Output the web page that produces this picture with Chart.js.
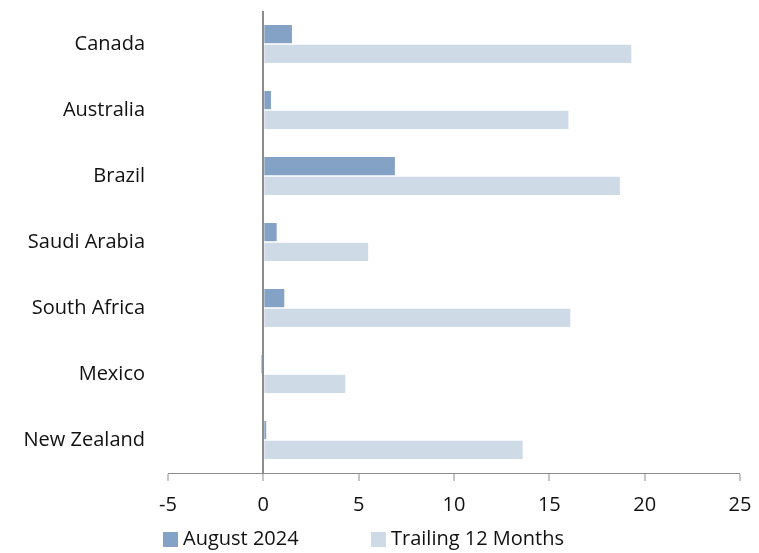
<!DOCTYPE html>
<html>
<head>
<meta charset="utf-8">
<script src="https://cdn.jsdelivr.net/npm/chart.js@4/dist/chart.umd.min.js"></script>
<style>
  html, body { margin: 0; padding: 0; background: #fff; }
  #wrap { position: relative; width: 759px; height: 553px; }
  #legend { position: absolute; left: 0; top: 527px; width: 759px; height: 24px;
            font-family: "Open Sans", sans-serif; font-size: 20px; color: #111; }
  .item { position: absolute; top: 0; height: 24px; line-height: 24px; white-space: nowrap; }
  .sw { position: absolute; top: 5px; width: 15px; height: 15px; }
  .lbl { position: absolute; top: -1px; }
</style>
</head>
<body>
<div id="wrap">
  <canvas id="c"></canvas>
  <div id="legend"></div>
</div>
<script>
const countries = ['Canada', 'Australia', 'Brazil', 'Saudi Arabia', 'South Africa', 'Mexico', 'New Zealand'];
const august2024 = [1.5, 0.4, 6.9, 0.7, 1.1, -0.1, 0.15];
const trailing12 = [19.3, 16.0, 18.7, 5.5, 16.1, 4.3, 13.6];
const seriesNames = ['August 2024', 'Trailing 12 Months'];
const xTicks = [-5, 0, 5, 10, 15, 20, 25];

const darkBlue = '#84A2C6';
const lightBlue = '#CFDAE7';
const axisGrey = '#8C8C8C';
const font = { family: '"Open Sans", sans-serif', size: 20 };

const chart = new Chart(document.getElementById('c'), {
  type: 'bar',
  data: {
    labels: countries,
    datasets: [
      { label: seriesNames[0], data: august2024, backgroundColor: darkBlue,
        borderWidth: 0, categoryPercentage: 0.6, barPercentage: 0.92 },
      { label: seriesNames[1], data: trailing12, backgroundColor: lightBlue,
        borderWidth: 0, categoryPercentage: 0.6, barPercentage: 0.92 }
    ]
  },
  options: {
    indexAxis: 'y',
    responsive: true,
    maintainAspectRatio: false,
    animation: false,
    layout: { padding: { left: 0, right: 19, top: 11, bottom: 33 } },
    plugins: { legend: { display: false }, tooltip: { enabled: false } },
    scales: {
      x: {
        type: 'linear',
        min: xTicks[0],
        max: xTicks[xTicks.length - 1],
        z: 1,
        afterBuildTicks: (s) => { s.ticks = xTicks.map(v => ({ value: v })); },
        afterFit: (s) => { s.height = 47; s.paddingLeft = 0; s.paddingRight = 0; },
        border: { display: true, color: axisGrey, width: 1 },
        grid: {
          drawOnChartArea: true,
          color: (ctx) => (ctx.tick && ctx.tick.value === 0 ? axisGrey : 'rgba(0,0,0,0)'),
          lineWidth: (ctx) => (ctx.tick && ctx.tick.value === 0 ? 2 : 0),
          tickColor: axisGrey,
          tickWidth: 1,
          tickLength: 8,
          drawTicks: true
        },
        ticks: { font: font, color: '#111', padding: 12, maxRotation: 0 }
      },
      y: {
        type: 'category',
        afterFit: (s) => { s.width = 168; s.paddingTop = 0; s.paddingBottom = 0; },
        border: { display: false },
        grid: { display: false, drawTicks: false },
        ticks: { font: font, color: '#111', padding: 23 }
      }
    }
  }
});

// Legend below the axis
const legend = document.getElementById('legend');
const colors = [darkBlue, lightBlue];
const lefts = [163, 371];
seriesNames.forEach((name, i) => {
  const item = document.createElement('div');
  item.className = 'item';
  item.style.left = lefts[i] + 'px';
  const sw = document.createElement('span');
  sw.className = 'sw';
  sw.style.left = '0px';
  sw.style.background = colors[i];
  const lbl = document.createElement('span');
  lbl.className = 'lbl';
  lbl.style.left = '20px';
  lbl.textContent = name;
  item.appendChild(sw);
  item.appendChild(lbl);
  legend.appendChild(item);
});
</script>
</body>
</html>
